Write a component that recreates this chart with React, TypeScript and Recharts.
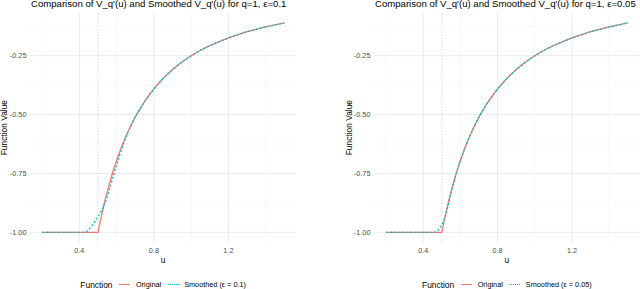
import React from 'react';
import { LineChart, Line, XAxis, YAxis, ReferenceLine } from 'recharts';

// sample points along u
const uValues = [
  0.2, 0.3, 0.4, 0.42, 0.44, 0.45, 0.46, 0.47, 0.48, 0.49, 0.5, 0.51, 0.52, 0.53, 0.54, 0.56, 0.58, 0.6,
  0.62, 0.64, 0.66, 0.68, 0.7, 0.74, 0.78, 0.82, 0.86, 0.9, 0.95, 1.0, 1.05, 1.1, 1.2, 1.3, 1.4, 1.5,
];

const originalValues = [
  -1, -1, -1, -1, -1, -1, -1, -1, -1, -1, -1, -0.961, -0.925, -0.89, -0.857, -0.797, -0.743, -0.694,
  -0.65, -0.61, -0.574, -0.541, -0.51, -0.457, -0.411, -0.372, -0.338, -0.309, -0.277, -0.25, -0.227,
  -0.207, -0.174, -0.148, -0.128, -0.111,
];

const smoothedEps01 = [
  -1, -1, -1, -1, -0.995, -0.988, -0.98, -0.969, -0.958, -0.946, -0.933, -0.92, -0.905, -0.889, -0.87,
  -0.823, -0.766, -0.713, -0.664, -0.618, -0.577, -0.542, -0.51, -0.457, -0.411, -0.372, -0.338, -0.309,
  -0.277, -0.25, -0.227, -0.207, -0.174, -0.148, -0.128, -0.111,
];

const smoothedEps005 = [
  -1, -1, -1, -1, -1, -1, -1, -0.997, -0.99, -0.981, -0.968, -0.951, -0.929, -0.898, -0.864, -0.799,
  -0.744, -0.694, -0.65, -0.61, -0.574, -0.541, -0.51, -0.457, -0.411, -0.372, -0.338, -0.309, -0.277,
  -0.25, -0.227, -0.207, -0.174, -0.148, -0.128, -0.111,
];

const xTicks = [0.4, 0.8, 1.2];
const xMinorGrid = [0.2, 0.6, 1.0, 1.4];
const yTicks = [-1, -0.75, -0.5, -0.25];
const yMinorGrid = [-0.875, -0.625, -0.375, -0.125];

const RED = '#F8766D';
const TEAL = '#00BFC4';
const FONT = '"Liberation Sans", Arial, sans-serif';

interface PanelProps {
  left: number;
  plotLeft: number;
  plotRight: number;
  title: string;
  smoothed: number[];
  smoothLabel: string;
  yLabelOffset: number;
}

const Panel: React.FC<PanelProps> = ({ left, plotLeft, plotRight, title, smoothed, smoothLabel, yLabelOffset }) => {
  const data = uValues.map((u, i) => ({ u, original: originalValues[i], smoothed: smoothed[i] }));
  const yAxisWidth = 22;
  const plotWidth = plotRight - plotLeft;

  return (
    <div style={{ position: 'absolute', left, top: 0, width: 320, height: 289, fontFamily: FONT }}>
      <div
        style={{
          position: 'absolute',
          left: plotLeft + 1,
          top: -0.8,
          fontSize: 9.6,
          lineHeight: '10px',
          whiteSpace: 'nowrap',
          color: '#000',
        }}
      >
        {title}
      </div>
      <LineChart
        width={320}
        height={289}
        data={data}
        margin={{ top: 12.6, right: 320 - plotRight, bottom: 25.7, left: plotLeft - yAxisWidth }}
      >
        {xMinorGrid.map((v) => (
          <ReferenceLine key={'xm' + v} x={v} stroke="#f2f2f2" strokeWidth={0.6} />
        ))}
        {yMinorGrid.map((v) => (
          <ReferenceLine key={'ym' + v} y={v} stroke="#f2f2f2" strokeWidth={0.6} />
        ))}
        {xTicks.map((v) => (
          <ReferenceLine key={'x' + v} x={v} stroke="#e8e8e8" strokeWidth={0.9} />
        ))}
        {yTicks.map((v) => (
          <ReferenceLine key={'y' + v} y={v} stroke="#e8e8e8" strokeWidth={0.9} />
        ))}
        <ReferenceLine x={0.5} stroke="#b5b5b5" strokeWidth={0.7} strokeDasharray="1 2" />
        <XAxis
          dataKey="u"
          type="number"
          domain={[0.135, 1.565]}
          ticks={xTicks}
          tickFormatter={(v: number) => v.toFixed(1)}
          axisLine={false}
          tickLine={false}
          tickSize={0}
          tickMargin={5.5}
          height={20.6}
          tick={{ fontSize: 7.3, fill: '#4d4d4d', fontFamily: FONT }}
          label={{ value: 'u', position: 'insideBottom', offset: 0, fontSize: 8.4, fill: '#000', fontFamily: FONT }}
        />
        <YAxis
          type="number"
          domain={[-1.044, -0.067]}
          ticks={yTicks}
          tickFormatter={(v: number) => v.toFixed(2)}
          axisLine={false}
          tickLine={false}
          tickSize={0}
          tickMargin={3.5}
          width={yAxisWidth}
          tick={{ fontSize: 7.3, fill: '#4d4d4d', fontFamily: FONT }}
          label={{
            value: 'Function Value',
            angle: -90,
            position: 'insideLeft',
            offset: yLabelOffset,
            fontSize: 8.4,
            fill: '#000',
            fontFamily: FONT,
            style: { textAnchor: 'middle' },
          }}
        />
        <Line
          type="linear"
          dataKey="original"
          stroke={RED}
          strokeWidth={1.3}
          dot={false}
          isAnimationActive={false}
        />
        <Line
          type="linear"
          dataKey="smoothed"
          stroke={TEAL}
          strokeWidth={1.3}
          strokeDasharray="2 2"
          dot={false}
          isAnimationActive={false}
        />
      </LineChart>
      <div
        style={{
          position: 'absolute',
          left: plotLeft,
          width: plotWidth,
          top: 279,
          height: 11,
          display: 'flex',
          alignItems: 'center',
          justifyContent: 'center',
          whiteSpace: 'nowrap',
        }}
      >
        <span style={{ fontSize: 8.4, marginRight: 7 }}>Function</span>
        <span style={{ display: 'inline-block', width: 11, borderTop: `1.3px solid ${RED}`, marginRight: 5.5 }} />
        <span style={{ fontSize: 7.3, marginRight: 6.5 }}>Original</span>
        <span style={{ display: 'inline-block', width: 11, borderTop: `1.3px dotted ${TEAL}`, marginRight: 5.5 }} />
        <span style={{ fontSize: 7.3 }}>{smoothLabel}</span>
      </div>
    </div>
  );
};

export default function App() {
  return (
    <div style={{ position: 'absolute', left: 0, top: 0, width: 640, height: 289, background: '#fff', overflow: 'hidden' }}>
      <Panel
        left={0}
        plotLeft={30}
        plotRight={296.4}
        title={"Comparison of V_q'(u) and Smoothed V_q'(u) for q=1, ε=0.1"}
        smoothed={smoothedEps01}
        smoothLabel="Smoothed (ε = 0.1)"
        yLabelOffset={-4}
      />
      <Panel
        left={320}
        plotLeft={54}
        plotRight={319.8}
        title={"Comparison of V_q'(u) and Smoothed V_q'(u) for q=1, ε=0.05"}
        smoothed={smoothedEps005}
        smoothLabel="Smoothed (ε = 0.05)"
        yLabelOffset={-3}
      />
    </div>
  );
}
